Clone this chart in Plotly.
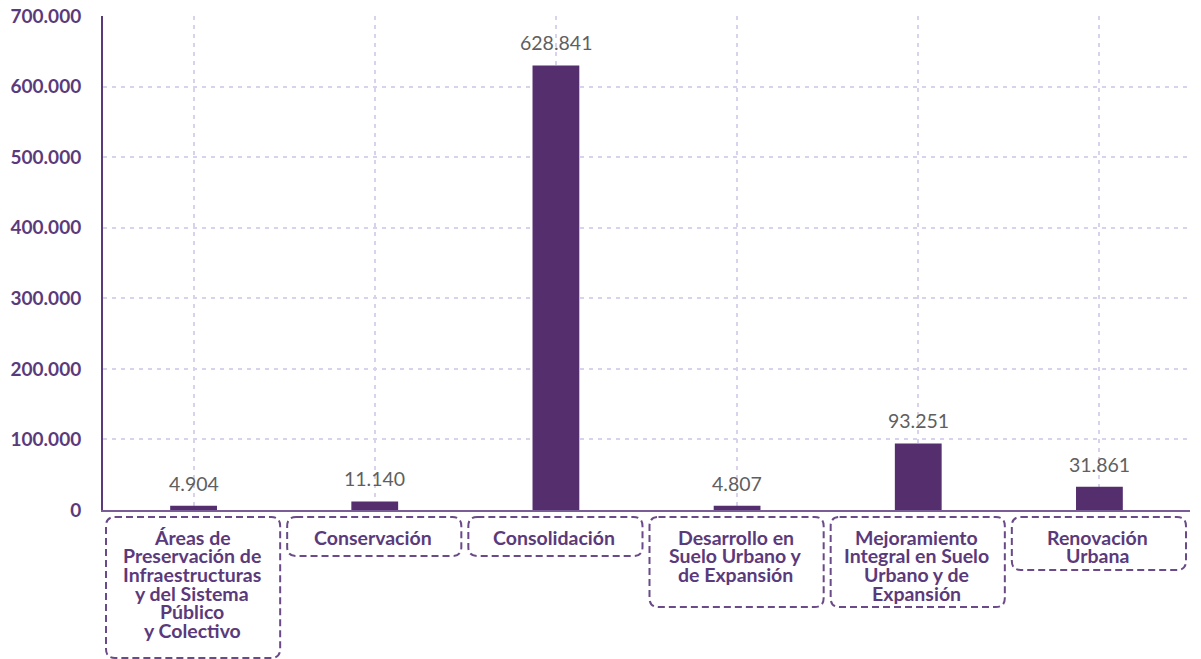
import plotly.graph_objects as go

# ---------------- data ----------------
categories = [
    "Áreas de Preservación de Infraestructuras y del Sistema Público y Colectivo",
    "Conservación",
    "Consolidación",
    "Desarrollo en Suelo Urbano y de Expansión",
    "Mejoramiento Integral en Suelo Urbano y de Expansión",
    "Renovación Urbana",
]
values = [4904, 11140, 628841, 4807, 93251, 31861]
category_lines = [
    ["Áreas de", "Preservación de", "Infraestructuras", "y del Sistema", "Público", "y Colectivo"],
    ["Conservación"],
    ["Consolidación"],
    ["Desarrollo en", "Suelo Urbano y", "de Expansión"],
    ["Mejoramiento", "Integral en Suelo", "Urbano y de", "Expansión"],
    ["Renovación", "Urbana"],
]
y_ticks = [0, 100000, 200000, 300000, 400000, 500000, 600000, 700000]

# ---------------- style ----------------
W, H = 1201, 659
ML, MR, MT, MB = 103, 11, 16, 149
PLOT_H = H - MT - MB
PLOT_W = W - ML - MR
BAR_COLOR = "#552E6E"
PURPLE_TXT = "#5B3A7B"
GRID = "#D8D2EC"
box_heights_px = [141, 39, 39, 90, 90, 53]
box_top_px = 7          # below axis line
line_step_px = 18.7
first_line_px = 27      # center of first line below axis

def fmt(v):
    return f"{v:,}".replace(",", ".")

n = len(categories)
fig = go.Figure()
fig.add_trace(go.Bar(
    x=list(range(n)), y=values,
    marker=dict(color=BAR_COLOR, line=dict(color=BAR_COLOR, width=1.5)),
    width=0.25, hoverinfo="skip",
))

annotations = []
shapes = []
for i, (v, lines) in enumerate(zip(values, category_lines)):
    annotations.append(dict(
        x=i, y=v, xref="x", yref="y", text=fmt(v), showarrow=False,
        yanchor="bottom", yshift=10,
        font=dict(family="Lato", size=19.5, color="#5F5F5F"),
    ))
    for k, ln in enumerate(lines):
        ypx = first_line_px + k * line_step_px
        annotations.append(dict(
            x=(i + 0.5) / n - 1.5 / PLOT_W, y=-ypx / PLOT_H, xref="paper", yref="paper",
            text="<b>" + ln + "</b>", showarrow=False, yanchor="middle", xanchor="center",
            font=dict(family="Lato", size=19.5, color=PURPLE_TXT),
        ))
    # rounded dashed box
    xl = i / n + 3 / PLOT_W
    xr = (i + 1) / n - 4 / PLOT_W
    yt = -box_top_px / PLOT_H
    yb = -(box_top_px + box_heights_px[i]) / PLOT_H
    rx, ry = 9 / PLOT_W, 9 / PLOT_H
    path = (f"M {xl+rx} {yt} L {xr-rx} {yt} Q {xr} {yt} {xr} {yt-ry} "
            f"L {xr} {yb+ry} Q {xr} {yb} {xr-rx} {yb} "
            f"L {xl+rx} {yb} Q {xl} {yb} {xl} {yb+ry} "
            f"L {xl} {yt-ry} Q {xl} {yt} {xl+rx} {yt} Z")
    shapes.append(dict(type="path", path=path, xref="paper", yref="paper",
                       line=dict(color="#6A4A88", width=2, dash="7px,4px")))

fig.update_layout(
    width=W, height=H,
    margin=dict(l=ML, r=MR, t=MT, b=MB),
    plot_bgcolor="white", paper_bgcolor="white",
    separators=",.",
    showlegend=False,
    bargap=0.75,
    xaxis=dict(
        range=[-0.5, n - 0.5], tickvals=list(range(n)), ticktext=categories,
        showticklabels=False, tickson="boundaries", ticks="", automargin=False,
        showgrid=True, gridcolor=GRID, griddash="4px,5px", gridwidth=1.5,
        showline=True, linecolor="#7A5C96", linewidth=2, zeroline=False,
    ),
    yaxis=dict(
        range=[0, 700000], tickvals=y_ticks, ticktext=[fmt(t) for t in y_ticks],
        showgrid=True, gridcolor=GRID, griddash="4px,5px", gridwidth=1.5,
        showline=True, linecolor="#5B3A7B", linewidth=2, zeroline=False,
        ticks="", ticklabelstandoff=16, automargin=False,
        tickfont=dict(family="Lato", size=19, color=PURPLE_TXT, weight="bold"),
    ),
    annotations=annotations,
    shapes=shapes,
)

fig.write_html(
    "out.html",
    config={"displayModeBar": False},
    post_script="document.body.style.margin='0';document.body.style.overflow='hidden';",
)
